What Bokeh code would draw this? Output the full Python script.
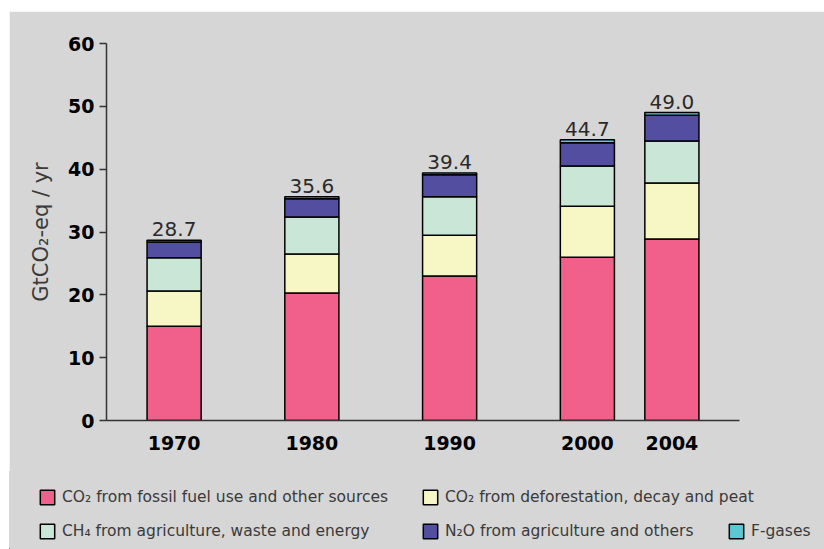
from bokeh.plotting import figure
from bokeh.models import (FactorRange, Range1d, Legend, LegendItem,
                          SingleIntervalTicker, ColumnDataSource, Spacer)
from bokeh.layouts import column, row
from bokeh.core.properties import value
from bokeh.embed import file_html
from bokeh.resources import INLINE

# ---- data (GtCO2-eq / yr) ----
years = ["1970", "1980", "1990", "2000", "2004"]
# outer (hidden) grouping: 2000 and 2004 share a group, so they sit closer
groups = [" ", "  ", "   ", "    ", "    "]
fossil = [15.0, 20.3, 23.0, 26.0, 28.9]
deforest = [5.6, 6.2, 6.5, 8.1, 8.9]
ch4 = [5.3, 5.9, 6.1, 6.4, 6.7]
n2o = [2.5, 2.9, 3.5, 3.7, 4.1]
fgases = [0.3, 0.3, 0.3, 0.5, 0.4]
series_names = ["fossil", "deforest", "ch4", "n2o", "fgases"]
series_labels = [
    "CO\u2082 from fossil fuel use and other sources",
    "CO\u2082 from deforestation, decay and peat",
    "CH\u2084 from agriculture, waste and energy",
    "N\u2082O from agriculture and others",
    "F-gases",
]
colors = ["#f0608a", "#f7f6c5", "#c9e6d6", "#544ea0", "#5bc8d4"]

x = list(zip(groups, years))
totals = [round(sum(v), 1) for v in zip(fossil, deforest, ch4, n2o, fgases)]
total_labels = [f"{t:.1f}" for t in totals]

source = ColumnDataSource(dict(x=x, fossil=fossil, deforest=deforest, ch4=ch4,
                               n2o=n2o, fgases=fgases, total=totals,
                               label=total_labels))

BG = "#d6d6d6"
FONT = "DejaVu Sans"

p = figure(width=815, height=460,
           x_range=FactorRange(*x, group_padding=0.63, range_padding=0.3,
                               range_padding_units="absolute"),
           y_range=Range1d(0, 60),
           output_backend="svg", toolbar_location=None,
           min_border_left=97, min_border_right=85,
           min_border_top=32, min_border_bottom=51)
p.background_fill_color = BG
p.border_fill_color = BG
p.outline_line_color = BG
p.outline_line_width = 2
p.xgrid.visible = False
p.ygrid.visible = False

rs = p.vbar_stack(series_names, x="x", width=0.64, source=source,
                  fill_color=colors, line_color="black", line_width=1.5)

p.text(x="x", y="total", text="label", source=source,
       text_align="center", text_baseline="bottom", y_offset=-4,
       text_font=value(FONT), text_font_size="20px",
       text_color="#2a2a2a")

# y axis
ya = p.yaxis[0]
ya.ticker = SingleIntervalTicker(interval=10)
ya.minor_tick_line_color = None
ya.major_tick_in = 0
ya.major_tick_out = 7
ya.major_label_standoff = 5
ya.axis_line_color = "#333333"
ya.axis_line_width = 1.5
ya.major_tick_line_color = "#333333"
ya.major_tick_line_width = 1.5
ya.major_label_text_font = FONT
ya.major_label_text_font_style = "bold"
ya.major_label_text_font_size = "19px"
ya.major_label_text_color = "black"
ya.axis_label = "GtCO\u2082-eq / yr"
ya.axis_label_text_font = FONT
ya.axis_label_text_font_style = "normal"
ya.axis_label_text_font_size = "21px"
ya.axis_label_text_color = "#3a3a3a"
ya.axis_label_standoff = 12

# x axis
xa = p.xaxis[0]
xa.axis_line_color = "#333333"
xa.axis_line_width = 1.5
xa.major_tick_line_color = None
xa.minor_tick_line_color = None
xa.major_label_standoff = 9
xa.major_label_text_font = FONT
xa.major_label_text_font_style = "bold"
xa.major_label_text_font_size = "19px"
xa.major_label_text_color = "black"
xa.group_text_font_size = "1px"
xa.group_text_color = BG
xa.separator_line_color = None

# ---- legend strip below the chart ----
lg = figure(width=815, height=78, x_range=Range1d(0, 1), y_range=Range1d(0, 1),
            output_backend="svg", toolbar_location=None,
            x_axis_location=None, y_axis_location=None,
            min_border_left=0, min_border_right=0,
            min_border_top=0, min_border_bottom=0)
lg.background_fill_color = BG
lg.border_fill_color = BG
lg.outline_line_color = BG
lg.outline_line_width = 2
lg.xgrid.visible = False
lg.ygrid.visible = False
p.frame_align = False
lg.frame_align = False

# off-screen proxy glyphs that carry the legend swatch styles
proxies = [lg.vbar(x=[-10], top=[-10], bottom=[-11], width=1, fill_color=c,
                   line_color="black", line_width=1.5) for c in colors]

def make_legend(idx, loc):
    items = [LegendItem(label=series_labels[i], renderers=[proxies[i]]) for i in idx]
    leg = Legend(items=items, location=loc, orientation="vertical",
                 glyph_width=18, glyph_height=18, label_standoff=6,
                 spacing=16, padding=0, margin=0, label_height=18,
                 border_line_color=None, background_fill_alpha=0,
                 label_text_font=FONT, label_text_font_size="15.5px",
                 label_text_color="#3a3a3a")
    lg.add_layout(leg, "center")

make_legend([0, 2], (29, 9))
make_legend([1, 3], (412, 9))
make_legend([4], (718, 9))

layout = column(Spacer(width=824, height=11),
                row(Spacer(width=9, height=538), column(p, lg)))

open("out.html", "w").write(file_html(layout, INLINE))
